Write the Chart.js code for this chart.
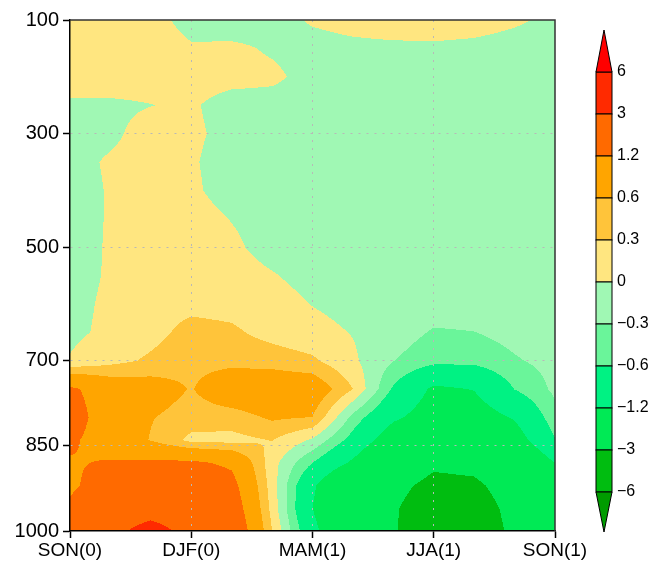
<!DOCTYPE html>
<html>
<head>
<meta charset="utf-8">
<script src="https://cdn.jsdelivr.net/npm/chart.js@4.4.1/dist/chart.umd.min.js"></script>
<style>
  body { margin: 0; background: #fff; }
  canvas { display: block; }
</style>
</head>
<body>
<canvas id="myChart" width="652" height="563"></canvas>
<script>
'use strict';

// x axis: months from SON(0) (0) to SON(1) (12)
let monthIndex = [0, 1, 2, 3, 4, 5, 6, 7, 8, 9, 10, 11, 12];
let xTickPos = [0, 3, 6, 9, 12];
let xTickLabels = ['SON(0)', 'DJF(0)', 'MAM(1)', 'JJA(1)', 'SON(1)'];
// y axis: pressure levels (hPa)
let yTicks = [100, 300, 500, 700, 850, 1000];
let pressure = [100, 150, 200, 250, 300, 350, 400, 450, 500, 550, 600, 650, 700, 750, 800, 840, 880, 920, 960, 1000];
// contour levels and colours (below -6 ... above 6)
let levels = [-6, -3, -1.2, -0.6, -0.3, 0, 0.3, 0.6, 1.2, 3, 6];
let levelLabels = ['\u22126', '\u22123', '\u22121.2', '\u22120.6', '\u22120.3', '0', '0.3', '0.6', '1.2', '3', '6'];
let fillColors = ['#009c00', '#00bd10', '#00ea55', '#00f283', '#6af59a', '#a0f8b4',
                  '#ffe680', '#ffc43a', '#ffa500', '#ff6a00', '#ff2a00', '#ff0000'];

// anomaly field, one row per pressure level, one value per month
let anom = [
  [0.2, 0.2, 0.1, -0.1, -0.15, -0.1, 0.03, 0.1, 0.15, 0.15, 0.12, 0.04, -0.06],          // 100
  [0.2, 0.2, 0.15, 0.03, 0.05, -0.03, -0.1, -0.07, -0.06, -0.05, -0.07, -0.11, -0.12],     // 150
  [0.15, 0.15, 0.12, 0.1, 0.08, 0.05, -0.085, -0.1, -0.12, -0.12, -0.12, -0.12, -0.12],    // 200
  [-0.05, -0.05, -0.005, 0.03, -0.1, -0.1, -0.12, -0.12, -0.12, -0.12, -0.12, -0.12, -0.12], // 250
  [-0.1, -0.05, 0.1, 0.05, -0.08, -0.12, -0.12, -0.12, -0.12, -0.12, -0.12, -0.12, -0.12], // 300
  [-0.08, 0.03, 0.1, 0.03, -0.12, -0.12, -0.12, -0.12, -0.12, -0.12, -0.12, -0.12, -0.12], // 350
  [-0.1, 0.02, 0.12, 0.05, -0.12, -0.12, -0.12, -0.12, -0.12, -0.12, -0.12, -0.12, -0.12], // 400
  [-0.1, 0.02, 0.12, 0.12, -0.01, -0.1, -0.12, -0.12, -0.12, -0.12, -0.12, -0.12, -0.12],  // 450
  [-0.1, 0.025, 0.15, 0.15, 0.05, -0.1, -0.12, -0.12, -0.12, -0.12, -0.12, -0.12, -0.12],  // 500
  [-0.1, 0.03, 0.15, 0.15, 0.12, 0.02, -0.1, -0.12, -0.12, -0.13, -0.13, -0.12, -0.1],     // 550
  [-0.08, 0.05, 0.2, 0.22, 0.2, 0.12, -0.01, -0.1, -0.12, -0.15, -0.15, -0.12, -0.1],      // 600
  [-0.06, 0.06, 0.2, 0.4, 0.35, 0.2, 0.1, -0.015, -0.15, -0.33, -0.305, -0.2, -0.12],      // 650
  [0.02, 0.2, 0.35, 0.5, 0.5, 0.45, 0.35, 0.05, -0.29, -0.5, -0.5, -0.33, -0.2],           // 700
  [1.3, 0.9, 0.8, 0.58, 0.9, 0.95, 0.9, 0.3, -0.65, -1.3, -1.18, -0.59, -0.24],            // 750
  [1.5, 0.85, 0.62, 0.45, 0.45, 0.65, 0.59, -0.4, -1.1, -1.5, -1.5, -1.15, -0.4],          // 800
  [1.3, 0.9, 0.58, 0.22, 0.2, 0.31, -0.05, -0.75, -1.6, -2.0, -2.0, -1.5, -0.62],          // 840
  [1.15, 1.25, 1.3, 1.3, 1.1, 0.12, -0.6, -1.3, -2.2, -2.8, -2.7, -2.0, -1.2],             // 880
  [1.1, 1.5, 1.7, 1.7, 1.4, 0.15, -1.1, -2.2, -2.7, -3.3, -3.2, -2.5, -1.8],               // 920
  [1.3, 1.9, 2.2, 2.0, 1.6, 0.2, -1.2, -2.3, -2.9, -3.6, -3.5, -2.7, -2.0],                // 960
  [1.5, 2.5, 3.7, 2.42, 1.8, 0.3, -1.0, -2.2, -2.9, -3.8, -3.6, -2.8, -2.2]                // 1000
];

// colour of one value
function bandColor(v) {
    let k = 0;
    while (k < levels.length && v >= levels[k]) k++;
    return fillColors[k];
}

function hexToRgb(h) {
    return [parseInt(h.substr(1, 2), 16), parseInt(h.substr(3, 2), 16), parseInt(h.substr(5, 2), 16)];
}

// bilinear value at month x, pressure p
function fieldAt(x, p) {
    let i = Math.min(Math.max(Math.floor(x), 0), monthIndex.length - 2);
    let fx = Math.min(Math.max(x - i, 0), 1);
    let j = 0;
    while (j < pressure.length - 2 && p > pressure[j + 1]) j++;
    let fy = Math.min(Math.max((p - pressure[j]) / (pressure[j + 1] - pressure[j]), 0), 1);
    let a = anom[j][i], b = anom[j][i + 1], c = anom[j + 1][i], d = anom[j + 1][i + 1];
    return (a * (1 - fx) + b * fx) * (1 - fy) + (c * (1 - fx) + d * fx) * fy;
}

// filled contour field, drawn under the grid
let contourFill = {
    id: 'contourFill',
    beforeDraw(chart) {
        let area = chart.chartArea;
        let xs = chart.scales.x, ys = chart.scales.y;
        let w = Math.round(area.right - area.left), h = Math.round(area.bottom - area.top);
        let off = document.createElement('canvas');
        off.width = w; off.height = h;
        let octx = off.getContext('2d');
        let img = octx.createImageData(w, h);
        let rgb = fillColors.map(hexToRgb);
        for (let py = 0; py < h; py++) {
            let p = ys.getValueForPixel(area.top + py + 0.5);
            for (let px = 0; px < w; px++) {
                let x = xs.getValueForPixel(area.left + px + 0.5);
                let v = fieldAt(x, p);
                let k = 0;
                while (k < levels.length && v >= levels[k]) k++;
                let o = (py * w + px) * 4;
                img.data[o] = rgb[k][0];
                img.data[o + 1] = rgb[k][1];
                img.data[o + 2] = rgb[k][2];
                img.data[o + 3] = 255;
            }
        }
        octx.putImageData(img, 0, 0);
        chart.ctx.drawImage(off, area.left, area.top);
    },
    afterDraw(chart) {
        let ctx = chart.ctx;
        let area = chart.chartArea;
        // frame on top and right
        ctx.save();
        ctx.strokeStyle = '#333';
        ctx.lineWidth = 1.5;
        ctx.beginPath();
        ctx.moveTo(area.left, area.top);
        ctx.lineTo(area.right, area.top);
        ctx.lineTo(area.right, area.bottom);
        ctx.stroke();

        // colour bar
        let bx = 596, bw = 16, top = 72, step = 42, n = levels.length - 1;
        ctx.lineWidth = 1;
        ctx.strokeStyle = '#000';
        for (let i = 0; i < n; i++) {
            ctx.fillStyle = fillColors[n - i];
            ctx.fillRect(bx, top + step * i, bw, step);
            ctx.strokeRect(bx, top + step * i, bw, step);
        }
        let bottom = top + step * n;
        ctx.fillStyle = fillColors[fillColors.length - 1];
        ctx.beginPath();
        ctx.moveTo(bx, top); ctx.lineTo(bx + bw / 2, 30); ctx.lineTo(bx + bw, top); ctx.closePath();
        ctx.fill(); ctx.stroke();
        ctx.fillStyle = fillColors[0];
        ctx.beginPath();
        ctx.moveTo(bx, bottom); ctx.lineTo(bx + bw / 2, 532); ctx.lineTo(bx + bw, bottom); ctx.closePath();
        ctx.fill(); ctx.stroke();

        ctx.fillStyle = '#000';
        ctx.font = '16px "Liberation Sans", Arial, sans-serif';
        ctx.textAlign = 'left';
        ctx.textBaseline = 'middle';
        for (let k = 0; k < levels.length; k++) {
            ctx.fillText(levelLabels[k], 617, top + step * (n - k));
        }
        ctx.restore();
    }
};

let tickFont = { family: '"Liberation Sans", Arial, sans-serif', size: 20 };

let ctx = document.getElementById('myChart').getContext('2d');
let chart = new Chart(ctx, {
    type: 'scatter',
    data: {
        datasets: [{
            label: 'grid',
            data: [],
            pointRadius: 0
        }]
    },
    options: {
        responsive: false,
        animation: false,
        devicePixelRatio: 1,
        layout: { padding: { top: 20, right: 97, left: 0, bottom: 0 } },
        plugins: { legend: { display: false }, tooltip: { enabled: false } },
        scales: {
            x: {
                type: 'linear',
                min: 0,
                max: 12,
                afterBuildTicks: (scale) => { scale.ticks = xTickPos.map(v => ({ value: v })); },
                afterFit: (scale) => { scale.height = 32; },
                ticks: {
                    color: '#000',
                    font: { family: tickFont.family, size: 19 },
                    padding: 1,
                    maxRotation: 0,
                    autoSkip: false,
                    callback: (v) => xTickLabels[xTickPos.indexOf(v)]
                },
                grid: {
                    color: (c) => (c.index === 0 || c.index === xTickPos.length - 1) ? 'rgba(0,0,0,0)' : '#b8b8b8',
                    lineWidth: 1,
                    tickColor: '#000',
                    tickLength: 7,
                    tickWidth: 1.5,
                    tickBorderDash: []
                },
                border: { display: true, color: '#000', width: 1.5, dash: [2, 6] }
            },
            y: {
                type: 'linear',
                reverse: true,
                min: 100,
                max: 1000,
                afterBuildTicks: (scale) => { scale.ticks = yTicks.map(v => ({ value: v })); },
                afterFit: (scale) => { scale.width = 70; },
                ticks: {
                    color: '#000',
                    font: tickFont,
                    padding: 4,
                    autoSkip: false,
                    callback: (v) => String(v)
                },
                grid: {
                    color: (c) => (c.index === 0 || c.index === yTicks.length - 1) ? 'rgba(0,0,0,0)' : '#b8b8b8',
                    lineWidth: 1,
                    tickColor: '#000',
                    tickLength: 7,
                    tickWidth: 1.5,
                    tickBorderDash: []
                },
                border: { display: true, color: '#000', width: 1.5, dash: [2, 6] }
            }
        }
    },
    plugins: [contourFill]
});
</script>
</body>
</html>
